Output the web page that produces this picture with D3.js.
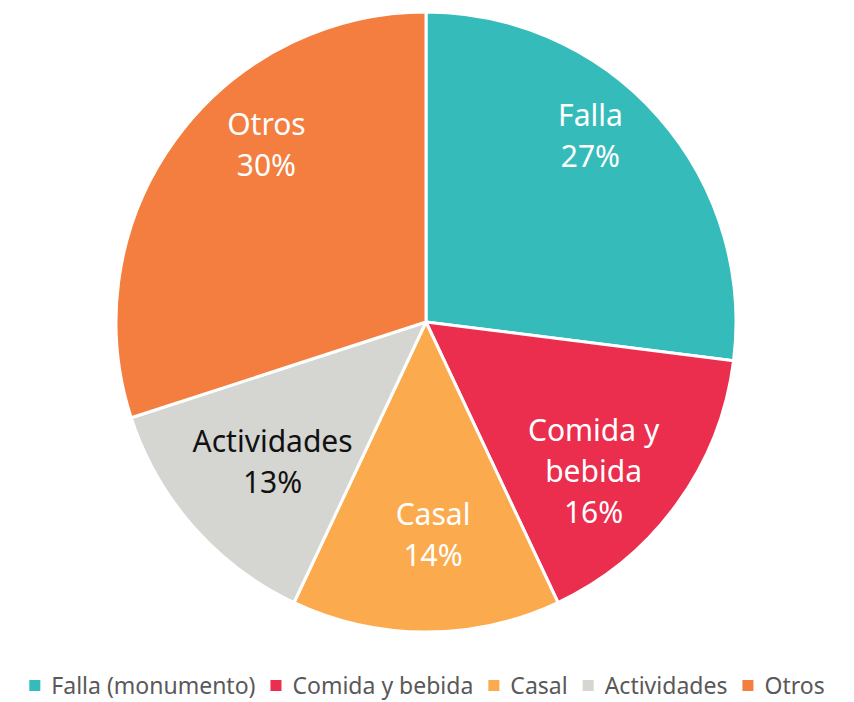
<!DOCTYPE html>
<html>
<head>
<meta charset="utf-8">
<script src="https://cdn.jsdelivr.net/npm/d3@7"></script>
<style>
  body { margin: 0; background: #fff; }
  svg { display: block; font-family: "Noto Sans", "Open Sans", sans-serif; }
</style>
</head>
<body>
<div id="chart"></div>
<script>
var categories = ['Falla (monumento)', 'Comida y bebida', 'Casal', 'Actividades', 'Otros'],
    shortLabels = [['Falla'], ['Comida y', 'bebida'], ['Casal'], ['Actividades'], ['Otros']],
    percents = [27, 16, 14, 13, 30];

var width = 854,
    height = 702,
    cx = 426,
    cy = 322,
    radius = 310,
    colors = ['#36bbbb', '#eb2d4e', '#fbab4e', '#d5d5d1', '#f37e3f'],
    labelColors = ['#fff', '#fff', '#fff', '#111', '#fff'],
    // small nudges so labels sit where the original put them
    labelNudge = [[-3, -38], [-13, 18], [7, -10], [14, -8], [21, -46]];

var svg = d3.select('#chart').append('svg')
    .attr('width', width)
    .attr('height', height);

var data = categories.map(function (c, i) {
    return { name: c, lines: shortLabels[i], value: percents[i], i: i };
});

var pie = d3.pie()
    .value(function (d) { return d.value; })
    .sort(null);

var arc = d3.arc().innerRadius(0).outerRadius(radius);
var labelArc = d3.arc().innerRadius(radius * 0.72).outerRadius(radius * 0.72);

var g = svg.append('g').attr('transform', 'translate(' + cx + ',' + cy + ')');

var arcs = pie(data);

g.selectAll('path.slice')
    .data(arcs)
    .enter().append('path')
    .attr('class', 'slice')
    .attr('d', arc)
    .attr('fill', function (d) { return colors[d.data.i]; })
    .attr('stroke', '#fff')
    .attr('stroke-width', 3)
    .attr('stroke-linejoin', 'round');

var lineH = 41;
var labels = g.selectAll('text.lbl')
    .data(arcs)
    .enter().append('text')
    .attr('class', 'lbl')
    .attr('text-anchor', 'middle')
    .attr('font-size', 30)
    .attr('fill', function (d) { return labelColors[d.data.i]; })
    .attr('transform', function (d) {
        var c = labelArc.centroid(d), n = labelNudge[d.data.i];
        return 'translate(' + (c[0] + n[0]) + ',' + (c[1] + n[1]) + ')';
    });

labels.each(function (d) {
    var t = d3.select(this);
    var lines = d.data.lines.concat([d.data.value + '%']);
    var y0 = -(lines.length - 1) * lineH / 2;
    lines.forEach(function (l, k) {
        t.append('tspan')
            .attr('x', 0)
            .attr('y', y0 + k * lineH)
            .attr('dy', '0.35em')
            .text(l);
    });
});

// legend
var legend = svg.append('g').attr('class', 'legend');
var items = legend.selectAll('g.item')
    .data(data)
    .enter().append('g')
    .attr('class', 'item');

items.append('rect')
    .attr('width', 11)
    .attr('height', 11)
    .attr('y', -6)
    .attr('fill', function (d) { return colors[d.i]; });

items.append('text')
    .attr('x', 22)
    .attr('dy', '0.35em')
    .attr('font-size', 23)
    .attr('fill', '#595959')
    .text(function (d) { return d.name; });

var x = 0, gap = 15, pos = [];
items.each(function () {
    pos.push(x);
    x += 22 + this.querySelector('text').getComputedTextLength() + gap;
});
var total = x - gap;
var startX = (width - total) / 2;
items.attr('transform', function (d, i) {
    return 'translate(' + (startX + pos[i]) + ',686)';
});
</script>
</body>
</html>
